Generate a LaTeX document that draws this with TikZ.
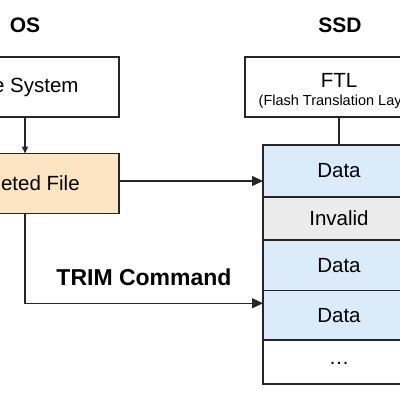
\documentclass[tikz,border=0pt]{standalone}
\usepackage{fontspec}
\setmainfont{Liberation Sans}
\usetikzlibrary{arrows.meta,positioning}

\tikzset{
  box/.style={draw=black!85,line width=1.4pt,minimum width=188pt,minimum height=60pt,font=\fontsize{20.5}{24}\selectfont,outer sep=0pt},
  cell/.style={draw=black!85,line width=1.4pt,minimum width=152pt,font=\fontsize{20.5}{24}\selectfont,outer sep=0pt,anchor=north},
  head/.style={font=\fontsize{21}{25}\bfseries},
  arr/.style={line width=1.4pt,draw=black!85,-{Triangle[length=11pt,width=10pt]}},
}
\definecolor{delfill}{HTML}{FDE4C2}
\definecolor{datafill}{HTML}{DCEBFA}
\definecolor{invfill}{HTML}{EBEBEB}

\begin{document}
\begin{tikzpicture}[x=1pt,y=-1pt]
  \useasboundingbox (0,0) rectangle (400,400);
  \clip (0,0) rectangle (400,400);
  \node[head] (os) at (25,25) {OS};
  \node[head] (ssd) at (340,25) {SSD};
  \node[box] (fs) at (25,87) {File System};
  \node[box,fill=delfill] (del) at (25,183.5) {Deleted File};
  \node[box] (ftl) at (339,87) {};
  \node[font=\fontsize{20.5}{24}\selectfont] (ftlname) at ([yshift=7pt]ftl.center) {FTL};
  \node[font=\fontsize{14.5}{17}\selectfont] (ftlsub) at ([yshift=-15pt]ftl.center) {(Flash Translation Layer)};
  % flash blocks
  \coordinate (top) at (339,145);
  \foreach \n/\t/\c/\h [remember=\n as \p (initially top)] in
    {c1/Data/datafill/52,c2/Invalid/invfill/43,c3/Data/datafill/50.5,c4/Data/datafill/49.5,c5/{\raisebox{-4pt}{\dots}}/white/44}
    \node[cell,fill=\c,minimum height=\h pt] (\n) at (\p.south) {\t};
  \draw[line width=1.4pt,draw=black!85] (ftl.south) -- (c1.north);
  \draw[line width=1.4pt,draw=black!85,-{Triangle[length=7pt,width=6pt]}] (fs.south) -- (del.north);
  \draw[arr] ([yshift=2.5pt]del.east) -- ([yshift=2.5pt]del.east -| c1.west);
  \draw[arr] (del.south) |- ([yshift=12pt]c4.west);
  \node[font=\fontsize{23}{27}\bfseries] (trim) at (144,277) {TRIM Command};
\end{tikzpicture}
\end{document}
